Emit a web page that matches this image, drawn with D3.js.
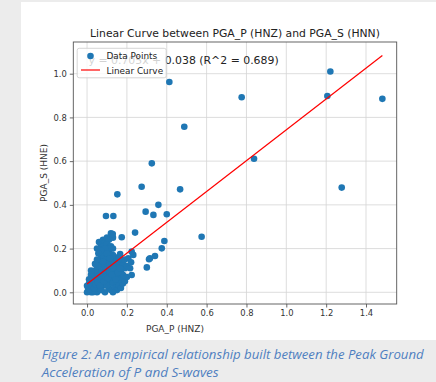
<!DOCTYPE html>
<html><head><meta charset="utf-8">
<script src="https://cdn.jsdelivr.net/npm/d3@7"></script>
<style>html,body{margin:0;padding:0;background:#ececec;}svg{display:block;}</style>
</head><body>
<svg id="c" width="436" height="382"></svg>
<script>
const title = "Linear Curve between PGA_P (HNZ) and PGA_S (HNN)";
const xLabel = "PGA_P (HNZ)";
const yLabel = "PGA_S (HNE)";
const xTicks = [0, 0.2, 0.4, 0.6, 0.8, 1.0, 1.2, 1.4];
const yTicks = [0, 0.2, 0.4, 0.6, 0.8, 1.0];
const slope = 0.705, intercept = 0.038, r2 = 0.689;
const legendLabels = ["Data Points", "Linear Curve"];
const caption = ["Figure 2: An empirical relationship built between the Peak Ground", "Acceleration of P and S-waves"];
// PGA_P (x) values
const pgaP = [
 0.0,0.01,0.005,0.02,0.02,0.03,0.01,0.03,0.04,0.05,0.04,0.05,0.06,0.06,0.07,0.08,0.07,0.08,0.09,0.1,
 0.11,0.12,0.09,0.1,0.11,0.12,0.13,0.14,0.15,0.13,0.14,0.15,0.16,0.17,0.18,0.16,0.17,0.12,0.13,0.11,
 0.1,0.08,0.06,0.05,0.03,0.02,0.04,0.06,0.07,0.09,0.05,0.08,0.14,0.15,0.16,0.17,0.15,0.14,0.18,0.19,
 0.18,0.12,0.13,0.1,0.06,0.07,0.11,0.03,0.02,0.01,0.0,0.02,0.04,0.05,0.08,0.1,0.19,0.2,0.2,0.19,
 0.16,0.17,0.13,0.09,0.07,0.03,0.11,0.12,0.14,0.015,0.025,0.035,0.045,0.055,0.065,0.075,0.085,0.095,0.105,0.115,
 0.125,0.135,0.145,0.155,0.165,0.06,0.07,0.08,0.09,0.1,0.11,0.12,0.13,0.08,0.1,0.12,0.13,0.11,0.09,0.05,
 0.07,0.224,0.216,0.207,0.224,0.166,0.162,0.232,0.3,0.311,0.316,0.341,0.375,0.388,0.241,0.174,0.129,0.575,0.4,0.333,
 0.294,0.358,0.095,0.132,0.152,0.274,0.467,0.325,0.413,0.488,0.776,0.838,1.221,1.206,1.482,1.278,0.221,0.057,0.099,0.115
];
// PGA_S (y) values
const pgaS = [
 0.0,0.01,0.02,0.0,0.03,0.01,0.04,0.05,0.02,0.0,0.06,0.04,0.02,0.07,0.05,0.03,0.09,0.08,0.06,0.04,
 0.02,0.01,0.1,0.08,0.11,0.06,0.04,0.02,0.01,0.09,0.07,0.05,0.03,0.02,0.04,0.08,0.06,0.12,0.14,0.15,
 0.13,0.12,0.1,0.08,0.07,0.05,0.1,0.13,0.15,0.16,0.12,0.14,0.12,0.1,0.12,0.1,0.14,0.16,0.13,0.11,
 0.08,0.16,0.17,0.18,0.18,0.17,0.19,0.03,0.08,0.06,0.03,0.1,0.13,0.15,0.19,0.03,0.05,0.07,0.12,0.15,
 0.16,0.15,0.0,0.0,0.01,0.0,0.08,0.09,0.1,0.015,0.025,0.02,0.035,0.045,0.03,0.06,0.05,0.07,0.065,0.09,
 0.08,0.11,0.06,0.09,0.11,0.23,0.22,0.24,0.23,0.25,0.24,0.27,0.25,0.21,0.22,0.21,0.2,0.2,0.2,0.2,
 0.19,0.186,0.11,0.156,0.079,0.175,0.156,0.171,0.114,0.151,0.156,0.166,0.201,0.235,0.273,0.252,0.267,0.254,0.357,0.354,
 0.369,0.4,0.349,0.349,0.448,0.483,0.471,0.59,0.962,0.757,0.892,0.611,1.01,0.898,0.885,0.479,0.137,0.178,0.178,0.156
];

const svg = d3.select("#c");
svg.append("rect").attr("x",21).attr("y",2).attr("width",415).attr("height",338).attr("fill","#fff");

const L=73.3, R=396.7, T=42, B=304;
const x = d3.scaleLinear().domain([-0.069, 1.554]).range([L, R]);
const y = d3.scaleLinear().domain([-0.0535, 1.145]).range([B, T]);
const font = "DejaVu Sans, sans-serif";

// grid
const g = svg.append("g");
g.selectAll(".gx").data(xTicks).join("line").attr("x1",d=>x(d)).attr("x2",d=>x(d)).attr("y1",T).attr("y2",B).attr("stroke","#d4d4d4").attr("stroke-width",0.8);
g.selectAll(".gy").data(yTicks).join("line").attr("y1",d=>y(d)).attr("y2",d=>y(d)).attr("x1",L).attr("x2",R).attr("stroke","#d4d4d4").attr("stroke-width",0.8);

// axes
const xAxis = d3.axisBottom(x).tickValues(xTicks).tickFormat(d3.format(".1f")).tickSizeOuter(0).tickSize(3.5).tickPadding(3);
const yAxis = d3.axisLeft(y).tickValues(yTicks).tickFormat(d3.format(".1f")).tickSizeOuter(0).tickSize(3.5).tickPadding(3);
const ax = svg.append("g").attr("transform",`translate(0,${B})`).call(xAxis);
const ay = svg.append("g").attr("transform",`translate(${L},0)`).call(yAxis);
[ax,ay].forEach(a=>{a.select(".domain").remove();a.selectAll("line").attr("stroke","#444").attr("stroke-width",0.8);a.selectAll("text").attr("font-family",font).attr("font-size","8.4px").attr("fill","#333");});

// points
const pts = pgaP.map((v,i)=>[v,pgaS[i]]);
svg.append("g").selectAll("circle").data(pts).join("circle")
 .attr("cx",d=>x(d[0])).attr("cy",d=>y(d[1])).attr("r",3.3).attr("fill","#1f77b4");

// line
const xmin = d3.min(pgaP), xmax = d3.max(pgaP);
svg.append("line").attr("x1",x(xmin)).attr("y1",y(slope*xmin+intercept)).attr("x2",x(xmax)).attr("y2",y(slope*xmax+intercept))
 .attr("stroke","#ff0000").attr("stroke-width",1.2);

// frame
svg.append("rect").attr("x",L).attr("y",T).attr("width",R-L).attr("height",B-T).attr("fill","none").attr("stroke","#555").attr("stroke-width",0.9);

// annotation
svg.append("text").attr("x",88.5).attr("y",63.8).attr("font-family",font).attr("font-size","10.9px").attr("fill","#222")
 .text(`y = ${slope.toFixed(3)}x + ${intercept.toFixed(3)} (R^2 = ${r2.toFixed(3)})`);

// legend
const lg = svg.append("g");
lg.append("rect").attr("x",77.2).attr("y",48.3).attr("width",89).attr("height",29.5).attr("rx",2)
 .attr("fill","#fff").attr("fill-opacity",0.8).attr("stroke","#ccc").attr("stroke-width",0.8);
lg.append("circle").attr("cx",90.5).attr("cy",56).attr("r",3.3).attr("fill","#1f77b4");
lg.append("line").attr("x1",81).attr("x2",100).attr("y1",70).attr("y2",70).attr("stroke","#ff0000").attr("stroke-width",1.2);
lg.selectAll("text.l").data(legendLabels).join("text").attr("x",106.5).attr("y",(d,i)=>58.5+i*15)
 .attr("font-family",font).attr("font-size","8.9px").attr("fill","#222").text(d=>d);

// title and labels
svg.append("text").attr("x",(L+R)/2).attr("y",36.5).attr("text-anchor","middle").attr("font-family",font).attr("font-size","10.8px").attr("fill","#222").text(title);
svg.append("text").attr("x",175).attr("y",332).attr("text-anchor","middle").attr("font-family",font).attr("font-size","9px").attr("fill","#333").text(xLabel);
svg.append("text").attr("transform",`translate(46.5,${(T+B)/2}) rotate(-90)`).attr("text-anchor","middle").attr("font-family",font).attr("font-size","9px").attr("fill","#333").text(yLabel);

// caption
svg.selectAll("text.cap").data(caption).join("text").attr("x",41.7).attr("y",(d,i)=>358.5+i*18.3)
 .attr("font-family","Open Sans, sans-serif").attr("font-style","italic").attr("font-size","12.5px").attr("fill","#4f7fc0")
 .attr("textLength",(d,i)=>i===0?382:177).attr("lengthAdjust","spacingAndGlyphs").text(d=>d);
</script>
</body></html>
